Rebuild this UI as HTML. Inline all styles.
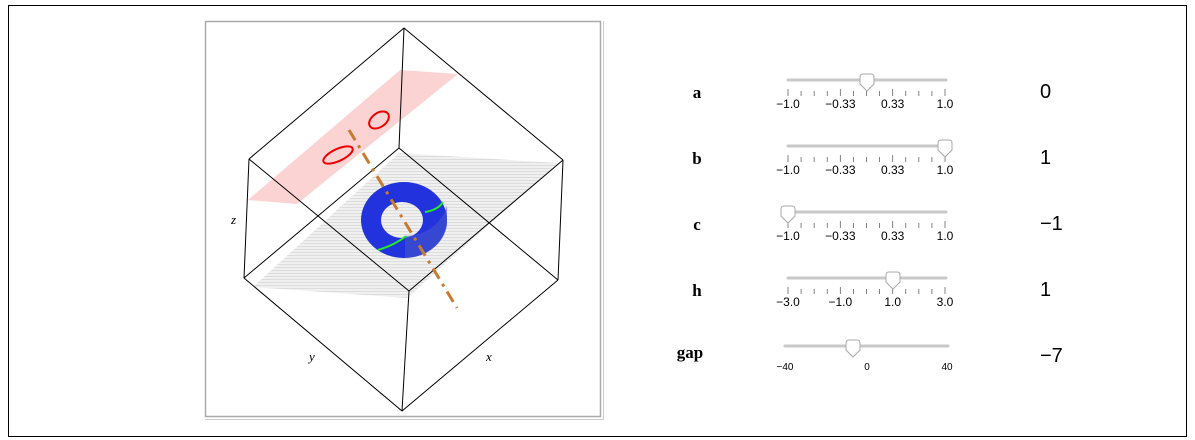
<!DOCTYPE html>
<html><head><style>
body{margin:0;background:#fff;width:1195px;height:440px;overflow:hidden;position:relative;font-family:"Liberation Sans",sans-serif}
.lab{position:absolute;font-family:"Liberation Serif",serif;font-weight:bold;font-size:17px;transform:translateX(-50%)}
.val{position:absolute;font-size:20px;left:1040px}
</style></head><body>
<svg width="1195" height="440" style="position:absolute;left:0;top:0">
<rect x="8.5" y="5.5" width="1178" height="431" fill="none" stroke="#000" stroke-width="1"/>
<rect x="205.5" y="21.5" width="395" height="395" fill="none" stroke="#aaa" stroke-width="1.5"/>
<line x1="205" y1="419.5" x2="603" y2="419.5" stroke="#ccc"/>
<line x1="603.5" y1="21" x2="603.5" y2="420" stroke="#ccc"/>
<polygon points="400,70 458,74 297,204 248,200" fill="#fcd3d3"/>
<defs><pattern id="g" width="3" height="3" patternUnits="userSpaceOnUse"><rect width="3" height="3" fill="#f0f0f0"/><rect width="3" height="1" fill="#dcdcdc"/></pattern></defs>
<polygon points="399,153 558,163 407,298 253,287" fill="url(#g)"/>
<ellipse cx="338" cy="155" rx="16" ry="6" transform="rotate(-25 338 155)" fill="none" stroke="#e00" stroke-width="2"/>
<ellipse cx="379" cy="120" rx="11" ry="7" transform="rotate(-35 379 120)" fill="none" stroke="#e00" stroke-width="2"/>
<g stroke="#000" stroke-width="1" fill="none">
<polyline points="249,159 404,28 563,160"/>
<line x1="404" y1="28" x2="399" y2="148"/>
<line x1="249" y1="159" x2="244" y2="278"/>
<line x1="563" y1="160" x2="558" y2="280"/>
<line x1="249" y1="159" x2="409" y2="291"/>
<line x1="563" y1="160" x2="409" y2="291"/>
<line x1="399" y1="148" x2="244" y2="278"/>
<line x1="399" y1="148" x2="558" y2="280"/>
<polyline points="244,278 402,411 558,280"/>
<line x1="409" y1="291" x2="402" y2="411"/>
</g>
<path d="M361,220 A43,38 0 1 0 447,220 A43,38 0 1 0 361,220 Z M381,220 A21,18 0 1 1 423,220 A21,18 0 1 1 381,220 Z" fill="#2233dd" fill-rule="evenodd"/>
<path d="M405,236 A43,38 0 0 0 447,205 L447,225 A43,38 0 0 1 405,258 Z" fill="#4455cc" opacity="0.6"/>
<path d="M378,250 Q395,245 406,236" stroke="#2e2" stroke-width="2" fill="none"/>
<path d="M425,212 Q438,210 443,202" stroke="#2e2" stroke-width="2" fill="none"/>
<line x1="349" y1="130" x2="457" y2="308" stroke="#c87a30" stroke-width="3" stroke-dasharray="12,6,3,6"/>
<g font-family="Liberation Serif,serif" font-style="italic" font-size="13">
<text x="231" y="224">z</text><text x="309" y="361">y</text><text x="486" y="361">x</text>
</g>
<g id="sliders" font-size="12" fill="#000" text-anchor="middle">
</g>
</svg>
<div class="lab" style="left:697px;top:83px">a</div>
<div class="lab" style="left:697px;top:149px">b</div>
<div class="lab" style="left:697px;top:215px">c</div>
<div class="lab" style="left:697px;top:281px">h</div>
<div class="lab" style="left:690px;top:343px">gap</div>
<div class="val" style="top:81px">0</div>
<div class="val" style="top:147px">1</div>
<div class="val" style="top:213px">−1</div>
<div class="val" style="top:279px">1</div>
<div class="val" style="top:345px">−7</div>
<script>
var s=document.getElementById('sliders'),h='';
function thumb(x,y){return '<path d="M'+(x-7)+','+(y+3)+' L'+(x-7)+','+(y-4)+' Q'+(x-7)+','+(y-7)+' '+(x-4)+','+(y-7)+' L'+(x+4)+','+(y-7)+' Q'+(x+7)+','+(y-7)+' '+(x+7)+','+(y-4)+' L'+(x+7)+','+(y+3)+' L'+x+','+(y+10)+' Z" fill="#fff" stroke="#aaa"/>';}
var rows=[[80,867,['−1.0','−0.33','0.33','1.0']],[146,945,['−1.0','−0.33','0.33','1.0']],[212,788,['−1.0','−0.33','0.33','1.0']],[278,893,['−3.0','−1.0','1.0','3.0']]];
rows.forEach(function(r){var y=r[0];
h+='<line x1="788" y1="'+y+'" x2="946" y2="'+y+'" stroke="#c8c8c8" stroke-width="3" stroke-linecap="round"/>';
for(var i=0;i<13;i++){var x=788+i*157/12;var maj=i%4==0;h+='<line x1="'+x+'" y1="'+(y+(maj?9:11))+'" x2="'+x+'" y2="'+(y+16)+'" stroke="#666" stroke-width="0.8"/>';if(maj)h+='<text x="'+x+'" y="'+(y+28)+'">'+r[2][i/4]+'</text>';}
h+=thumb(r[1],y+1);});
h+='<line x1="785" y1="346" x2="948" y2="346" stroke="#c8c8c8" stroke-width="3" stroke-linecap="round"/>';
h+='<text x="785" y="370" font-size="10">−40</text><text x="867" y="370" font-size="10">0</text><text x="947" y="370" font-size="10">40</text>';
h+=thumb(853,347);
s.innerHTML=h;
</script>
</body></html>
